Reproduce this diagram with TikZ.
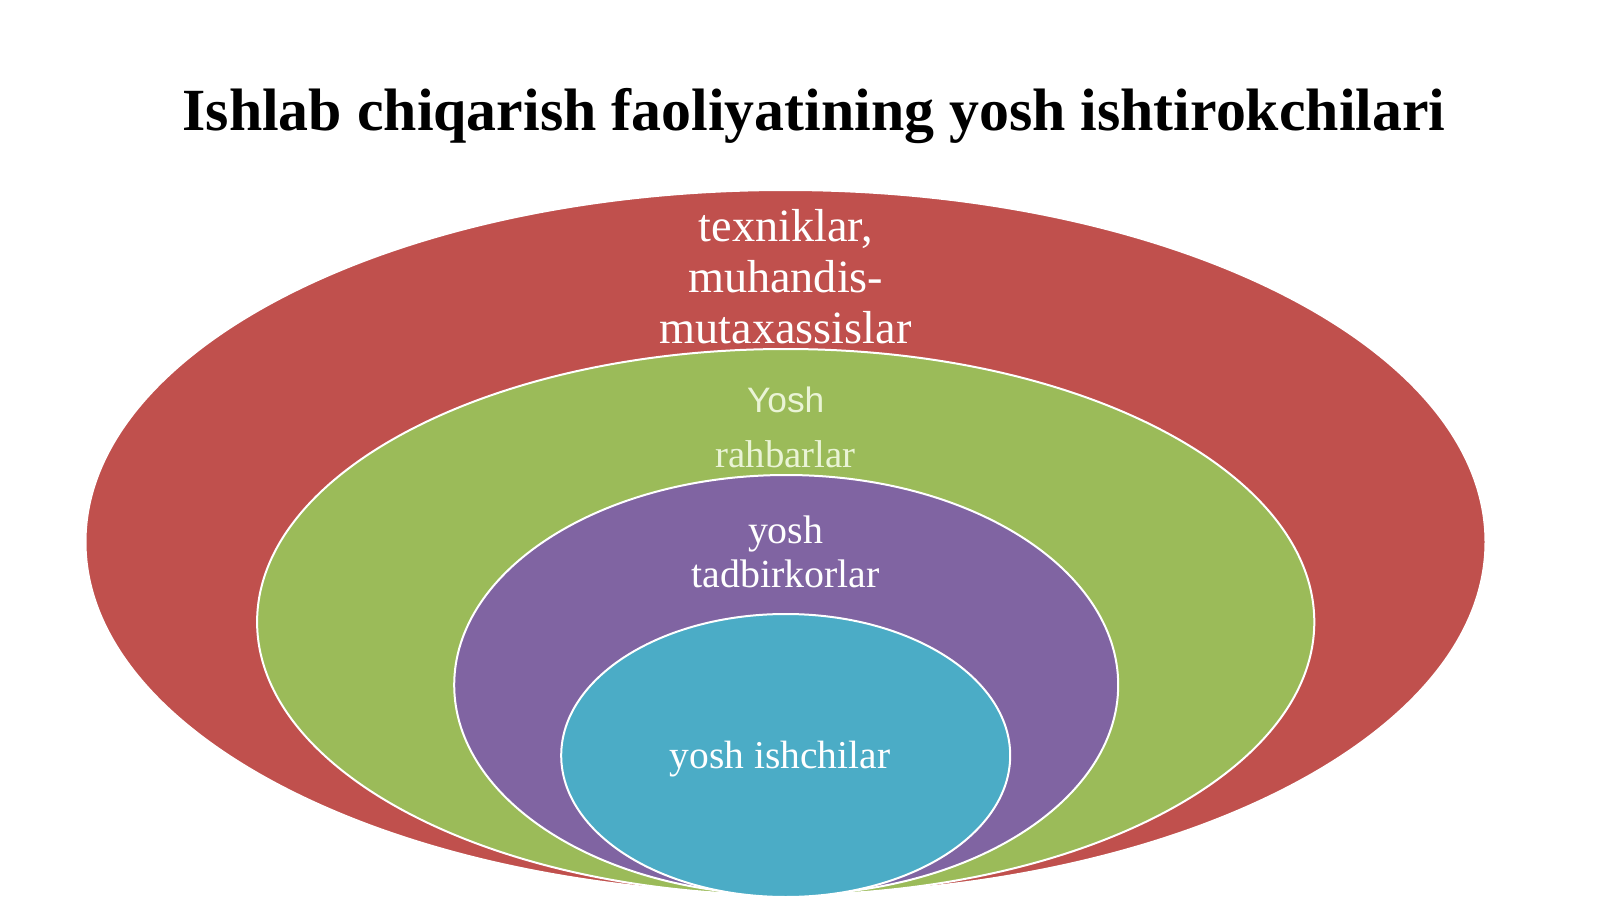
\documentclass[tikz,border=0pt]{standalone}
\usepackage{fontspec}
\setmainfont{Liberation Serif}
\setsansfont{Liberation Sans}
\definecolor{ringRed}{RGB}{192,80,77}
\definecolor{ringGreen}{RGB}{155,187,89}
\definecolor{ringPurple}{RGB}{128,100,162}
\definecolor{ringBlue}{RGB}{75,172,198}
\definecolor{paleGreen}{RGB}{234,244,214}
\begin{document}
\begin{tikzpicture}[x=0.75pt,y=0.75pt,yscale=-1,xscale=1]
\useasboundingbox (0,0) rectangle (1600,899);

%Shape: Ellipse [id:red]
\draw [draw=white, line width=1.5, fill=ringRed] (785.5,542) ellipse (700 and 352);
%Shape: Ellipse [id:green]
\draw [draw=white, line width=1.5, fill=ringGreen] (785.7,622) ellipse (528.6 and 273);
%Shape: Ellipse [id:purple]
\draw [draw=white, line width=1.5, fill=ringPurple] (786.2,685) ellipse (332 and 210);
%Shape: Ellipse [id:blue]
\draw [draw=white, line width=1.5, fill=ringBlue] (785.7,755.5) ellipse (224.5 and 141.5);

% Text Node
\draw (814,130) node (ttl) [anchor=base][inner sep=0.75pt][font=\fontsize{44.9}{54}\selectfont\bfseries] {Ishlab chiqarish faoliyatining yosh ishtirokchilari};
% Text Node
\draw (785.7,343) node (lblRed) [anchor=base][inner sep=0.75pt][align=center, color=white, font=\fontsize{34.7}{38}\selectfont] {texniklar,\\muhandis-\\mutaxassislar};
% Text Node
\draw (785.7,412) node (lblYosh) [anchor=base][inner sep=0.75pt][color=paleGreen, font=\fontsize{26.5}{30}\sffamily\selectfont] {Yosh};
% Text Node
\draw (785.7,467) node (lblGreen) [anchor=base][inner sep=0.75pt][color=paleGreen, font=\fontsize{29.1}{33}\selectfont] {rahbarlar};
% Text Node
\draw (785.7,587) node (lblPurple) [anchor=base][inner sep=0.75pt][align=center, color=white, font=\fontsize{29.9}{33}\selectfont] {yosh\\tadbirkorlar};
% Text Node
\draw (780,768) node (lblBlue) [anchor=base][inner sep=0.75pt][color=white, font=\fontsize{29.6}{33}\selectfont] {yosh ishchilar};

\end{tikzpicture}
\end{document}
